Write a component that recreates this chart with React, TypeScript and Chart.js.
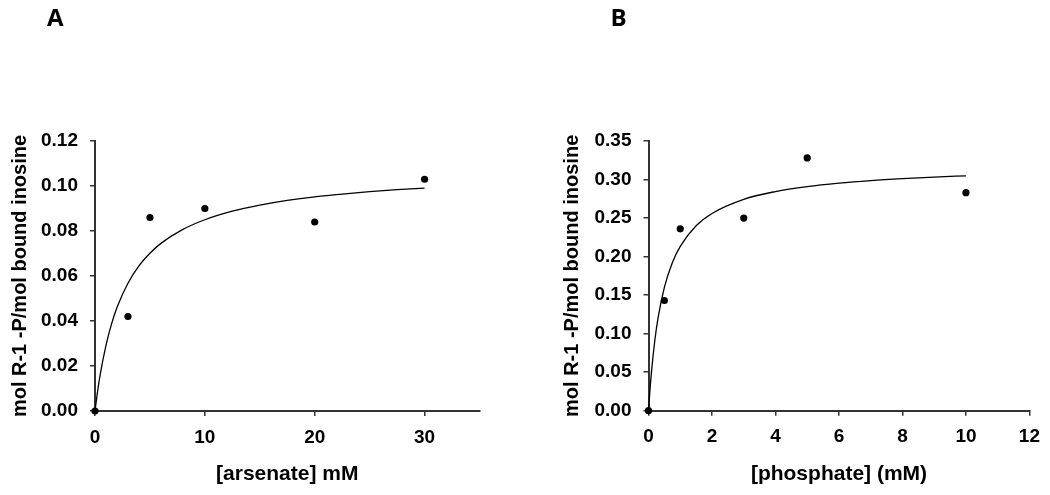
import React, { useEffect, useRef } from 'react';
import { Chart, registerables } from 'chart.js';

Chart.register(...registerables);

// Panel A: arsenate
const arsenateConc = [0, 3, 5, 10, 20, 30];
const arsenateBound = [0, 0.042, 0.086, 0.09, 0.084, 0.103];
const arsenateFitConc = [0, 0.25, 0.5, 1, 1.5, 2, 3, 4, 5, 6, 8, 10, 12.5, 15, 17.5, 20, 22.5, 25, 27.5, 30];
const arsenateFitBound = [0, 0.0092, 0.0169, 0.0292, 0.0386, 0.046, 0.0568, 0.0645, 0.0701, 0.0745, 0.0807, 0.085, 0.0888, 0.0915, 0.0936, 0.0952, 0.0964, 0.0975, 0.0984, 0.0991];
const arsenateXTicks = [0, 10, 20, 30];
const arsenateYTicks = [0, 0.02, 0.04, 0.06, 0.08, 0.1, 0.12];

// Panel B: phosphate
const phosphateConc = [0, 0.5, 1, 3, 5, 10];
const phosphateBound = [0, 0.143, 0.236, 0.25, 0.328, 0.283];
const phosphateFitConc = [0, 0.05, 0.1, 0.2, 0.3, 0.5, 0.75, 1, 1.5, 2, 3, 4, 5, 6, 7, 8, 9, 10];
const phosphateFitBound = [0, 0.0291, 0.0533, 0.0914, 0.12, 0.16, 0.192, 0.2133, 0.24, 0.256, 0.2743, 0.2844, 0.2909, 0.2954, 0.2987, 0.3012, 0.3032, 0.3048];
const phosphateXTicks = [0, 2, 4, 6, 8, 10, 12];
const phosphateYTicks = [0, 0.05, 0.1, 0.15, 0.2, 0.25, 0.3, 0.35];

const Y_TITLE = 'mol R-1 -P/mol bound inosine';

const textPlugin = {
  id: 'panelText',
  afterDraw(chart: any, _args: any, opts: any) {
    const { ctx, chartArea } = chart;
    ctx.save();
    ctx.fillStyle = '#000';
    ctx.textBaseline = 'alphabetic';
    ctx.textAlign = 'left';
    ctx.font = 'bold 24px "Open Sans"';
    ctx.fillText(opts.letter, opts.letterX, opts.letterY);
    ctx.font = 'bold 21px "Liberation Sans"';
    ctx.textAlign = 'center';
    ctx.fillText(opts.xTitle, (chartArea.left + chartArea.right) / 2, opts.xTitleY);
    ctx.font = 'bold 20px "Liberation Sans"';
    ctx.translate(opts.yTitleX, (chartArea.top + chartArea.bottom) / 2);
    ctx.rotate(-Math.PI / 2);
    ctx.fillText(opts.yTitle, 0, 0);
    ctx.restore();
  },
};

const tickFont = { family: '"Liberation Sans", Arial', size: 19, weight: 'bold' as const };

function makeConfig(p: any) {
  return {
    type: 'scatter' as const,
    data: {
      datasets: [
        {
          label: 'data',
          data: p.x.map((x: number, i: number) => ({ x, y: p.y[i] })),
          showLine: false,
          pointRadius: 3.6,
          pointBackgroundColor: '#000',
          pointBorderWidth: 0,
          clip: false,
        },
        {
          label: 'fit',
          data: p.fx.map((x: number, i: number) => ({ x, y: p.fy[i] })),
          showLine: true,
          borderColor: '#000',
          borderWidth: 1.3,
          pointRadius: 0,
          cubicInterpolationMode: 'monotone',
          clip: false,
        },
      ],
    },
    options: {
      animation: false,
      responsive: false,
      devicePixelRatio: 1,
      layout: { padding: { left: 0, top: 141, right: p.padRight, bottom: 0 } },
      plugins: {
        legend: { display: false },
        tooltip: { enabled: false },
        panelText: p.text,
      },
      scales: {
        x: {
          type: 'linear',
          min: 0,
          max: p.xMax,
          afterBuildTicks: (s: any) => { s.ticks = p.xTicks.map((value: number) => ({ value })); },
          afterFit: (s: any) => { s.height = p.xHeight; },
          border: { display: true, color: '#333', width: 2 },
          grid: { display: true, drawOnChartArea: false, drawTicks: true, tickLength: 5, color: '#333', lineWidth: 1.5 },
          ticks: { font: tickFont, color: '#000', padding: 10, maxRotation: 0, callback: (v: any) => String(v) },
        },
        y: {
          type: 'linear',
          min: 0,
          max: p.yMax,
          afterBuildTicks: (s: any) => { s.ticks = p.yTicks.map((value: number) => ({ value })); },
          afterFit: (s: any) => { s.width = p.yWidth; },
          border: { display: true, color: '#333', width: 2 },
          grid: { display: true, drawOnChartArea: false, drawTicks: true, tickLength: 5, color: '#333', lineWidth: 1.5 },
          ticks: { font: tickFont, color: '#000', padding: 12, callback: (v: any) => Number(v).toFixed(2) },
        },
      },
    },
    plugins: [textPlugin],
  };
}

function Panel(props: { cfg: any; left: number }) {
  const ref = useRef<HTMLCanvasElement>(null);
  useEffect(() => {
    const chart = new Chart(ref.current as HTMLCanvasElement, makeConfig(props.cfg) as any);
    return () => chart.destroy();
  }, []);
  return (
    <canvas
      ref={ref}
      width={525}
      height={495}
      style={{ position: 'absolute', left: props.left, top: 0, width: 525, height: 495 }}
    />
  );
}

const panelA = {
  x: arsenateConc, y: arsenateBound, fx: arsenateFitConc, fy: arsenateFitBound,
  xTicks: arsenateXTicks, yTicks: arsenateYTicks, xMax: 35, yMax: 0.12,
  padRight: 45.5, yWidth: 95, xHeight: 84,
  text: { letter: 'A', letterX: 47, letterY: 26, xTitle: '[arsenate] mM', xTitleY: 480, yTitle: Y_TITLE, yTitleX: 26 },
};

const panelB = {
  x: phosphateConc, y: phosphateBound, fx: phosphateFitConc, fy: phosphateFitBound,
  xTicks: phosphateXTicks, yTicks: phosphateYTicks, xMax: 12, yMax: 0.35,
  padRight: 17.3, yWidth: 123.5, xHeight: 84.3,
  text: { letter: 'B', letterX: 85.5, letterY: 26, xTitle: '[phosphate] (mM)', xTitleY: 480, yTitle: Y_TITLE, yTitleX: 53 },
};

export default function App() {
  return (
    <div style={{ position: 'fixed', left: 0, top: 0, width: 1050, height: 495, background: '#fff' }}>
      <Panel cfg={panelA} left={0} />
      <Panel cfg={panelB} left={525} />
    </div>
  );
}
